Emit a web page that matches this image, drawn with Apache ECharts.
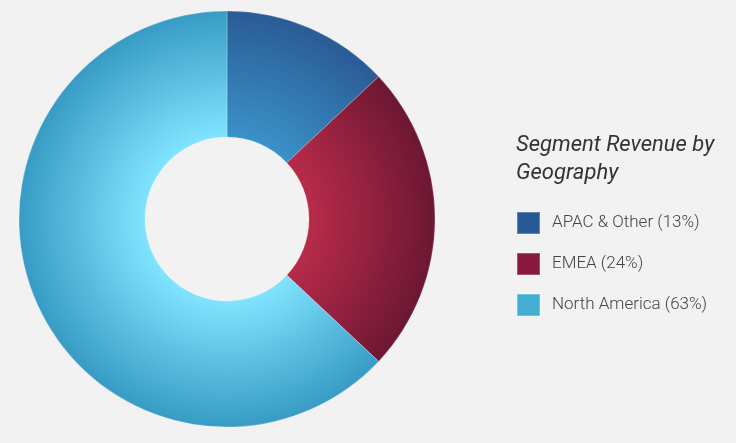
<!DOCTYPE html>
<html>
<head>
<meta charset="utf-8">
<script src="https://cdn.jsdelivr.net/npm/echarts@6/dist/echarts.min.js"></script>
<style>
  html, body { margin: 0; padding: 0; background: #f2f2f2; }
  #chart { width: 736px; height: 443px; }
</style>
</head>
<body>
<div id="chart"></div>
<script>
var segments = ['APAC & Other', 'EMEA', 'North America'];
var shares = [13, 24, 63];
var innerColors = ['#3a92c8', '#b82b4a', '#80e4ff'];
var outerColors = ['#2a5b95', '#6c1733', '#389bc4'];
var legendColors = ['#285a96', '#8a1a3d', '#43aed3'];

var myChart = echarts.init(document.getElementById('chart'));

var cx = 227, cy = 219, rOut = 208, rIn = 82;

var data = segments.map(function (name, i) {
    return {
        name: name,
        value: shares[i],
        itemStyle: {
            color: {
                type: 'radial', x: cx, y: cy, r: rOut, global: true,
                colorStops: [
                    { offset: 0, color: innerColors[i] },
                    { offset: rIn / rOut, color: innerColors[i] },
                    { offset: 1, color: outerColors[i] }
                ]
            }
        }
    };
});

var option = {
    backgroundColor: '#f2f2f2',
    animation: false,
    title: {
        text: 'Segment Revenue by\nGeography',
        left: 511,
        top: 126,
        textStyle: {
            fontFamily: 'Roboto, Liberation Sans, sans-serif',
            fontStyle: 'italic',
            fontWeight: 'normal',
            fontSize: 22,
            lineHeight: 28,
            color: '#333'
        }
    },
    legend: {
        orient: 'vertical',
        left: 511,
        top: 206,
        itemWidth: 23,
        itemHeight: 22,
        itemGap: 17,
        icon: 'rect',
        data: segments.map(function (name, i) {
            return { name: name, itemStyle: { color: legendColors[i] } };
        }),
        formatter: function (name) {
            return name + ' (' + shares[segments.indexOf(name)] + '%)';
        },
        textStyle: {
            fontFamily: 'Roboto, Liberation Sans, sans-serif',
            fontWeight: 300,
            fontSize: 17,
            color: '#444',
            padding: [0, 0, 0, 7]
        }
    },
    series: [
        {
            type: 'pie',
            center: [cx, cy],
            radius: [rIn, rOut],
            startAngle: 90,
            clockwise: true,
            label: { show: false },
            labelLine: { show: false },
            emphasis: { disabled: true },
            itemStyle: { borderColor: 'rgba(255,255,255,0.25)', borderWidth: 1 },
            data: data
        }
    ]
};

myChart.setOption(option);
</script>
</body>
</html>
